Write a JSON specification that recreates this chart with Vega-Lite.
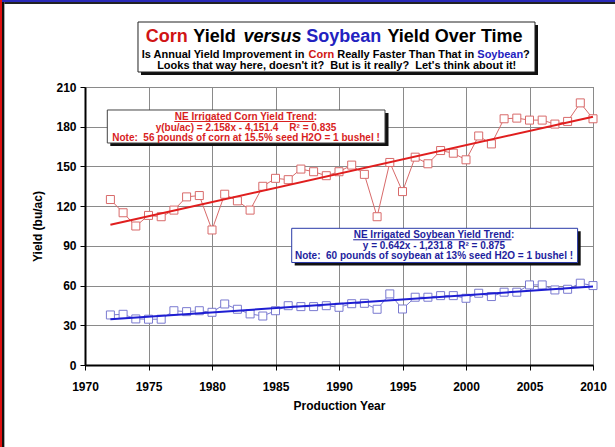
{
  "$schema": "https://vega.github.io/schema/vega-lite/v6.json",
  "autosize": {"type": "none"},
  "width": 508,
  "height": 278,
  "padding": {"left": 85, "top": 87, "right": 22, "bottom": 82},
  "background": "white",
  "data": {"values": [{}]},
  "config": {
    "font": "Liberation Sans",
    "view": {"stroke": "#555", "strokeWidth": 1},
    "axis": {
      "labelFont": "Liberation Sans", "labelFontSize": 12, "labelFontWeight": "bold", "labelColor": "black",
      "titleFont": "Liberation Sans", "titleFontSize": 12, "titleFontWeight": "bold", "titleColor": "black",
      "domainColor": "black", "domainWidth": 2, "tickColor": "black", "tickSize": 5, "tickWidth": 1,
      "gridColor": "#8a8a8a", "gridWidth": 1, "labelFlush": false, "labelOverlap": false
    }
  },
  "datasets": {
    "yields": [
      {"year": 1972, "crop": "Corn", "yield": 125}, {"year": 1973, "crop": "Corn", "yield": 115},
      {"year": 1974, "crop": "Corn", "yield": 105}, {"year": 1975, "crop": "Corn", "yield": 113},
      {"year": 1976, "crop": "Corn", "yield": 112}, {"year": 1977, "crop": "Corn", "yield": 117},
      {"year": 1978, "crop": "Corn", "yield": 127}, {"year": 1979, "crop": "Corn", "yield": 128},
      {"year": 1980, "crop": "Corn", "yield": 102}, {"year": 1981, "crop": "Corn", "yield": 129},
      {"year": 1982, "crop": "Corn", "yield": 124}, {"year": 1983, "crop": "Corn", "yield": 117},
      {"year": 1984, "crop": "Corn", "yield": 135}, {"year": 1985, "crop": "Corn", "yield": 141},
      {"year": 1986, "crop": "Corn", "yield": 140}, {"year": 1987, "crop": "Corn", "yield": 148},
      {"year": 1988, "crop": "Corn", "yield": 146}, {"year": 1989, "crop": "Corn", "yield": 143},
      {"year": 1990, "crop": "Corn", "yield": 146}, {"year": 1991, "crop": "Corn", "yield": 151},
      {"year": 1992, "crop": "Corn", "yield": 144}, {"year": 1993, "crop": "Corn", "yield": 112},
      {"year": 1994, "crop": "Corn", "yield": 153}, {"year": 1995, "crop": "Corn", "yield": 131},
      {"year": 1996, "crop": "Corn", "yield": 157}, {"year": 1997, "crop": "Corn", "yield": 152},
      {"year": 1998, "crop": "Corn", "yield": 162}, {"year": 1999, "crop": "Corn", "yield": 160},
      {"year": 2000, "crop": "Corn", "yield": 155}, {"year": 2001, "crop": "Corn", "yield": 173},
      {"year": 2002, "crop": "Corn", "yield": 167}, {"year": 2003, "crop": "Corn", "yield": 186},
      {"year": 2004, "crop": "Corn", "yield": 186.5}, {"year": 2005, "crop": "Corn", "yield": 185},
      {"year": 2006, "crop": "Corn", "yield": 185}, {"year": 2007, "crop": "Corn", "yield": 182},
      {"year": 2008, "crop": "Corn", "yield": 184}, {"year": 2009, "crop": "Corn", "yield": 198},
      {"year": 2010, "crop": "Corn", "yield": 186},
      {"year": 1972, "crop": "Soybean", "yield": 37.8}, {"year": 1973, "crop": "Soybean", "yield": 38.3},
      {"year": 1974, "crop": "Soybean", "yield": 34.8}, {"year": 1975, "crop": "Soybean", "yield": 34.6},
      {"year": 1976, "crop": "Soybean", "yield": 34.6}, {"year": 1977, "crop": "Soybean", "yield": 41},
      {"year": 1978, "crop": "Soybean", "yield": 40.3}, {"year": 1979, "crop": "Soybean", "yield": 41},
      {"year": 1980, "crop": "Soybean", "yield": 39.8}, {"year": 1981, "crop": "Soybean", "yield": 46.1},
      {"year": 1982, "crop": "Soybean", "yield": 42.1}, {"year": 1983, "crop": "Soybean", "yield": 38.6},
      {"year": 1984, "crop": "Soybean", "yield": 37}, {"year": 1985, "crop": "Soybean", "yield": 41},
      {"year": 1986, "crop": "Soybean", "yield": 44.8}, {"year": 1987, "crop": "Soybean", "yield": 44.1},
      {"year": 1988, "crop": "Soybean", "yield": 44.1}, {"year": 1989, "crop": "Soybean", "yield": 44.8},
      {"year": 1990, "crop": "Soybean", "yield": 43.6}, {"year": 1991, "crop": "Soybean", "yield": 46.3},
      {"year": 1992, "crop": "Soybean", "yield": 46.6}, {"year": 1993, "crop": "Soybean", "yield": 42.1},
      {"year": 1994, "crop": "Soybean", "yield": 53.7}, {"year": 1995, "crop": "Soybean", "yield": 42.3},
      {"year": 1996, "crop": "Soybean", "yield": 51.2}, {"year": 1997, "crop": "Soybean", "yield": 51.2},
      {"year": 1998, "crop": "Soybean", "yield": 52.4}, {"year": 1999, "crop": "Soybean", "yield": 52.4},
      {"year": 2000, "crop": "Soybean", "yield": 50.4}, {"year": 2001, "crop": "Soybean", "yield": 54.2},
      {"year": 2002, "crop": "Soybean", "yield": 51.7}, {"year": 2003, "crop": "Soybean", "yield": 55},
      {"year": 2004, "crop": "Soybean", "yield": 55}, {"year": 2005, "crop": "Soybean", "yield": 60.5},
      {"year": 2006, "crop": "Soybean", "yield": 60.5}, {"year": 2007, "crop": "Soybean", "yield": 56.7},
      {"year": 2008, "crop": "Soybean", "yield": 57.2}, {"year": 2009, "crop": "Soybean", "yield": 61.8},
      {"year": 2010, "crop": "Soybean", "yield": 60}
    ]
  },
  "layer": [
    {
      "data": {"name": "yields"},
      "mark": {"type": "line", "strokeWidth": 1, "clip": false},
      "encoding": {
        "x": {"field": "year", "type": "quantitative",
              "scale": {"domain": [1970, 2010], "nice": false, "zero": false},
              "axis": {"title": "Production Year", "values": [1970, 1975, 1980, 1985, 1990, 1995, 2000, 2005, 2010], "tickCount": 20, "format": "d", "labelPadding": 11, "titlePadding": 8, "labelFontSize": 12, "labelOverlap": false}},
        "y": {"field": "yield", "type": "quantitative",
              "scale": {"domain": [0, 210], "nice": false},
              "axis": {"title": "Yield (bu/ac)", "values": [0, 30, 60, 90, 120, 150, 180, 210], "tickCount": 20, "labelPadding": 4, "titlePadding": 11, "labelFontSize": 12, "labelOverlap": false}},
        "stroke": {"field": "crop", "type": "nominal", "scale": {"domain": ["Corn", "Soybean"], "range": ["#d86a6a", "#7a7ad0"]}, "legend": null},
        "detail": {"field": "crop"}
      }
    },
    {
      "data": {"name": "yields"},
      "mark": {"type": "point", "shape": "square", "filled": false, "size": 64, "strokeWidth": 1, "fill": "white", "fillOpacity": 1},
      "encoding": {
        "x": {"field": "year", "type": "quantitative"},
        "y": {"field": "yield", "type": "quantitative"},
        "stroke": {"field": "crop", "type": "nominal", "legend": null}
      }
    },
    {
      "data": {"name": "yields"},
      "transform": [{"regression": "yield", "on": "year", "groupby": ["crop"]}],
      "mark": {"type": "line", "strokeWidth": 2},
      "encoding": {
        "x": {"field": "year", "type": "quantitative"},
        "y": {"field": "yield", "type": "quantitative"},
        "color": {"field": "crop", "type": "nominal", "scale": {"domain": ["Corn", "Soybean"], "range": ["#e01e1e", "#1e1ed2"]}, "legend": null}
      }
    },
    {"mark": {"type": "rect", "fill": "#111", "clip": false}, "encoding": {"x": {"datum": 1974.409}, "x2": {"datum": 2005.669}, "y": {"datum": 256.83}, "y2": {"datum": 219.06}}},
    {"mark": {"type": "rect", "fill": "white", "stroke": "#222", "strokeWidth": 1, "clip": false}, "encoding": {"x": {"datum": 1974.173}, "x2": {"datum": 2005.433}, "y": {"datum": 259.10}, "y2": {"datum": 221.33}}},
    {"mark": {"type": "text", "text": "Corn", "align": "left", "baseline": "alphabetic", "fontSize": 18, "fontWeight": "bold", "font": "Liberation Sans", "color": "#d01414"}, "encoding": {"x": {"datum": 1974.780}, "y": {"datum": 244.37}}},
    {"mark": {"type": "text", "text": "Yield", "align": "left", "baseline": "alphabetic", "fontSize": 18, "fontWeight": "bold", "font": "Liberation Sans", "color": "black"}, "encoding": {"x": {"datum": 1978.528}, "y": {"datum": 244.37}}},
    {"mark": {"type": "text", "text": "versus", "align": "left", "baseline": "alphabetic", "fontSize": 18, "fontWeight": "bold", "fontStyle": "italic", "font": "Liberation Sans", "color": "black"}, "encoding": {"x": {"datum": 1982.478}, "y": {"datum": 244.37}}},
    {"mark": {"type": "text", "text": "Soybean", "align": "left", "baseline": "alphabetic", "fontSize": 18, "fontWeight": "bold", "font": "Liberation Sans", "color": "#2222c0"}, "encoding": {"x": {"datum": 1987.417}, "y": {"datum": 244.37}}},
    {"mark": {"type": "text", "text": "Yield Over Time", "align": "left", "baseline": "alphabetic", "fontSize": 18, "fontWeight": "bold", "font": "Liberation Sans", "color": "black"}, "encoding": {"x": {"datum": 1993.819}, "y": {"datum": 244.37}}},
    {"mark": {"type": "text", "text": "Is Annual Yield Improvement in", "align": "left", "baseline": "alphabetic", "fontSize": 11, "fontWeight": "bold", "font": "Liberation Sans", "color": "black"}, "encoding": {"x": {"datum": 1974.465}, "y": {"datum": 231.53}}},
    {"mark": {"type": "text", "text": "Corn", "align": "left", "baseline": "alphabetic", "fontSize": 11, "fontWeight": "bold", "font": "Liberation Sans", "color": "#d01414"}, "encoding": {"x": {"datum": 1987.606}, "y": {"datum": 231.53}}},
    {"mark": {"type": "text", "text": "Really Faster Than That in", "align": "left", "baseline": "alphabetic", "fontSize": 11, "fontWeight": "bold", "font": "Liberation Sans", "color": "black"}, "encoding": {"x": {"datum": 1989.866}, "y": {"datum": 231.53}}},
    {"mark": {"type": "text", "text": "Soybean", "align": "left", "baseline": "alphabetic", "fontSize": 11, "fontWeight": "bold", "font": "Liberation Sans", "color": "#2222c0"}, "encoding": {"x": {"datum": 2000.890}, "y": {"datum": 231.53}}},
    {"mark": {"type": "text", "text": "?", "align": "left", "baseline": "alphabetic", "fontSize": 11, "fontWeight": "bold", "font": "Liberation Sans", "color": "black"}, "encoding": {"x": {"datum": 2004.496}, "y": {"datum": 231.53}}},
    {"mark": {"type": "text", "text": "Looks that way here, doesn't it?\u00a0\u00a0But is it really?\u00a0\u00a0Let's think about it!", "align": "center", "baseline": "alphabetic", "fontSize": 11, "fontWeight": "bold", "font": "Liberation Sans", "color": "black"}, "encoding": {"x": {"datum": 1989.819}, "y": {"datum": 223.60}}},
    {"mark": {"type": "rect", "fill": "#111", "clip": false}, "encoding": {"x": {"datum": 1971.992}, "x2": {"datum": 1993.898}, "y": {"datum": 190.36}, "y2": {"datum": 165.43}}},
    {"mark": {"type": "rect", "fill": "white", "stroke": "#444", "strokeWidth": 1, "clip": false}, "encoding": {"x": {"datum": 1971.756}, "x2": {"datum": 1993.622}, "y": {"datum": 192.63}, "y2": {"datum": 167.70}}},
    {"mark": {"type": "text", "text": "NE Irrigated Corn Yield Trend:", "align": "center", "baseline": "alphabetic", "fontSize": 10, "fontWeight": "bold", "font": "Liberation Sans", "color": "#d81e1e"}, "encoding": {"x": {"datum": 1982.677}, "y": {"datum": 185.07}}},
    {"mark": {"type": "rule", "color": "#d81e1e", "strokeWidth": 1}, "encoding": {"x": {"datum": 1977.031}, "x2": {"datum": 1988.055}, "y": {"datum": 183.94}}},
    {"mark": {"type": "text", "text": "y(bu/ac) = 2.158x - 4,151.4\u00a0\u00a0\u00a0\u00a0R² = 0.835", "align": "center", "baseline": "alphabetic", "fontSize": 10, "fontWeight": "bold", "font": "Liberation Sans", "color": "#d81e1e"}, "encoding": {"x": {"datum": 1982.677}, "y": {"datum": 176.76}}},
    {"mark": {"type": "text", "text": "Note:\u00a0\u00a056 pounds of corn at 15.5% seed H2O = 1 bushel !", "align": "center", "baseline": "alphabetic", "fontSize": 10, "fontWeight": "bold", "font": "Liberation Sans", "color": "#d81e1e"}, "encoding": {"x": {"datum": 1982.677}, "y": {"datum": 169.21}}},
    {"mark": {"type": "rect", "fill": "#111", "clip": false}, "encoding": {"x": {"datum": 1986.512}, "x2": {"datum": 2009.031}, "y": {"datum": 100.99}, "y2": {"datum": 75.16}}},
    {"mark": {"type": "rect", "fill": "white", "stroke": "#2a3aa8", "strokeWidth": 1, "clip": false}, "encoding": {"x": {"datum": 1986.276}, "x2": {"datum": 2008.787}, "y": {"datum": 103.26}, "y2": {"datum": 77.43}}},
    {"mark": {"type": "text", "text": "NE Irrigated Soybean Yield Trend:", "align": "center", "baseline": "alphabetic", "fontSize": 10, "fontWeight": "bold", "font": "Liberation Sans", "color": "#1e1e9e"}, "encoding": {"x": {"datum": 1997.480}, "y": {"datum": 95.71}}},
    {"mark": {"type": "rule", "color": "#1e1e9e", "strokeWidth": 1}, "encoding": {"x": {"datum": 1991.118}, "x2": {"datum": 2003.583}, "y": {"datum": 94.58}}},
    {"mark": {"type": "text", "text": "y = 0.642x - 1,231.8\u00a0\u00a0R² = 0.875", "align": "center", "baseline": "alphabetic", "fontSize": 10, "fontWeight": "bold", "font": "Liberation Sans", "color": "#1e1e9e"}, "encoding": {"x": {"datum": 1997.480}, "y": {"datum": 87.63}}},
    {"mark": {"type": "text", "text": "Note:\u00a0\u00a060 pounds of soybean at 13% seed H2O = 1 bushel !", "align": "center", "baseline": "alphabetic", "fontSize": 10, "fontWeight": "bold", "font": "Liberation Sans", "color": "#1e1e9e"}, "encoding": {"x": {"datum": 1997.480}, "y": {"datum": 80.07}}},
    {"mark": {"type": "rect", "fill": "#e01010", "clip": false}, "encoding": {"x": {"datum": 1963.307}, "x2": {"datum": 1963.465}, "y": {"datum": 275.72}, "y2": {"datum": -61.94}}},
    {"mark": {"type": "rect", "fill": "#111", "clip": false}, "encoding": {"x": {"datum": 1963.465}, "x2": {"datum": 1963.650}, "y": {"datum": 274.21}, "y2": {"datum": -61.94}}},
    {"mark": {"type": "rect", "fill": "#2a2ab8", "clip": false}, "encoding": {"x": {"datum": 1963.465}, "x2": {"datum": 2011.732}, "y": {"datum": 275.72}, "y2": {"datum": 274.21}}},
    {"mark": {"type": "rect", "fill": "#222", "clip": false}, "encoding": {"x": {"datum": 1963.650}, "x2": {"datum": 2011.732}, "y": {"datum": 274.21}, "y2": {"datum": 272.70}}}
  ]
}
